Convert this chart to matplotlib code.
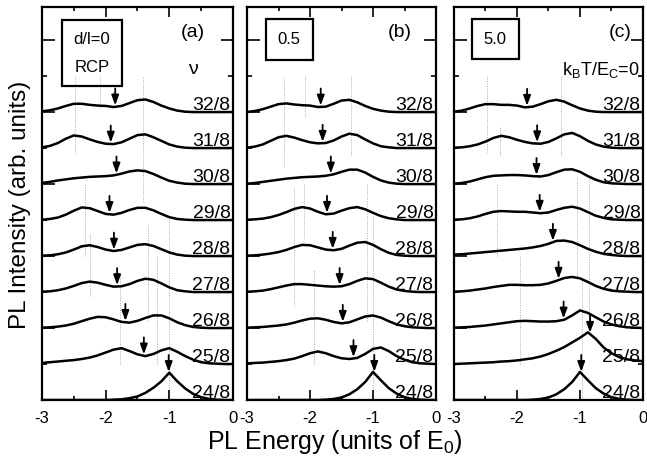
import matplotlib
matplotlib.use('Agg')
import matplotlib.pyplot as plt
import numpy as np
from matplotlib.patches import Rectangle
from matplotlib.ticker import MultipleLocator

plt.rcParams['font.family'] = ['Liberation Sans', 'DejaVu Sans']
plt.rcParams['mathtext.fontset'] = 'custom'
plt.rcParams['mathtext.rm'] = 'Liberation Sans'
plt.rcParams['mathtext.it'] = 'Liberation Sans:italic'
plt.rcParams['axes.unicode_minus'] = False

# ---------------- data ----------------
energy = np.linspace(-3.0, 0.0, 25)          # PL energy grid (units of E0)
nu_labels = ['24/8', '25/8', '26/8', '27/8', '28/8', '29/8', '30/8', '31/8', '32/8']

# panel (a) d/l = 0
a_24 = [0, 0, 0, 0, 0, 0, 0, 0, 0, .01, .02, .05, .10, .20, .34, .52, .76, .52, .32, .17, .08, .03, .01, 0, 0]
a_25 = [.03, .05, .07, .09, .11, .14, .18, .24, .32, .40, .44, .36, .27, .22, .28, .38, .44, .34, .22, .12, .05, .02, .01, 0, 0]
a_26 = [.01, .02, .04, .07, .12, .19, .26, .31, .30, .24, .17, .15, .20, .28, .35, .35, .27, .16, .08, .03, .01, 0, 0, 0, 0]
a_27 = [.01, .02, .05, .10, .17, .25, .29, .26, .20, .15, .16, .22, .31, .37, .34, .24, .13, .05, .02, 0, 0, 0, 0, 0, 0]
a_28 = [.01, .02, .05, .10, .18, .27, .30, .25, .18, .14, .17, .24, .31, .33, .28, .19, .10, .04, .01, 0, 0, 0, 0, 0, 0]
a_29 = [.01, .03, .07, .15, .26, .35, .33, .25, .17, .15, .20, .28, .34, .34, .27, .17, .08, .03, .01, 0, 0, 0, 0, 0, 0]
a_30 = [.03, .06, .10, .13, .16, .18, .20, .21, .22, .24, .29, .35, .38, .36, .28, .18, .09, .04, .01, 0, 0, 0, 0, 0, 0]
a_31 = [.02, .06, .14, .26, .35, .32, .24, .17, .12, .11, .16, .26, .36, .38, .30, .20, .10, .04, .01, 0, 0, 0, 0, 0, 0]
a_32 = [.02, .05, .10, .17, .23, .23, .20, .18, .17, .14, .17, .25, .33, .35, .28, .18, .10, .04, .01, 0, 0, 0, 0, 0, 0]
arrows_a = [-1.01, -1.40, -1.69, -1.82, -1.87, -1.94, -1.83, -1.92, -1.85]

# panel (b) d/l = 0.5
b_24 = [0, 0, 0, 0, 0, 0, 0, 0, 0, 0, .01, .03, .07, .16, .30, .50, .78, .55, .33, .18, .08, .03, .01, 0, 0]
b_25 = [.02, .03, .04, .06, .08, .11, .15, .22, .30, .35, .30, .22, .16, .14, .17, .28, .42, .46, .36, .22, .12, .05, .02, .01, 0]
b_26 = [.01, .02, .03, .05, .07, .10, .15, .21, .26, .27, .23, .17, .13, .16, .24, .32, .35, .29, .19, .10, .05, .02, .01, 0, 0]
b_27 = [.01, .02, .04, .08, .13, .18, .22, .22, .20, .18, .16, .15, .16, .22, .31, .38, .36, .26, .15, .07, .03, .01, 0, 0, 0]
b_28 = [.01, .02, .04, .07, .11, .17, .25, .31, .30, .24, .18, .16, .20, .29, .37, .39, .31, .19, .09, .03, .01, 0, 0, 0, 0]
b_29 = [.01, .02, .04, .08, .14, .22, .31, .36, .32, .23, .16, .18, .26, .33, .36, .30, .20, .11, .05, .02, 0, 0, 0, 0, 0]
b_30 = [.01, .03, .06, .09, .12, .15, .17, .19, .20, .21, .23, .27, .34, .40, .40, .32, .20, .10, .04, .01, 0, 0, 0, 0, 0]
b_31 = [.01, .04, .10, .20, .30, .34, .29, .22, .16, .13, .14, .21, .32, .40, .36, .24, .13, .05, .02, 0, 0, 0, 0, 0, 0]
b_32 = [0, .03, .08, .15, .22, .24, .21, .19, .18, .14, .15, .23, .32, .34, .27, .17, .09, .04, .01, 0, 0, 0, 0, 0, 0]
arrows_b = [-0.98, -1.31, -1.48, -1.53, -1.64, -1.73, -1.67, -1.80, -1.83]

# panel (c) d/l = 5.0
c_24 = [0, 0, 0, 0, 0, 0, 0, 0, 0, 0, .01, .03, .07, .16, .30, .50, .78, .55, .33, .18, .08, .03, .01, 0, 0]
c_25 = [0, .01, .02, .03, .04, .05, .07, .08, .10, .13, .16, .21, .28, .37, .47, .60, .73, .88, .70, .46, .30, .19, .13, .10, .08]
c_26 = [.01, .02, .03, .05, .07, .10, .13, .16, .19, .20, .19, .18, .18, .19, .23, .35, .49, .42, .30, .18, .10, .05, .02, .01, 0]
c_27 = [.01, .02, .04, .07, .10, .14, .17, .20, .20, .19, .19, .20, .24, .31, .39, .42, .38, .28, .17, .09, .04, .02, .01, 0, 0]
c_28 = [.04, .05, .07, .09, .11, .13, .15, .17, .19, .21, .24, .28, .34, .42, .43, .39, .30, .20, .12, .06, .03, .01, 0, 0, 0]
c_29 = [.01, .02, .05, .10, .17, .23, .25, .24, .23, .23, .21, .19, .21, .28, .34, .37, .32, .22, .12, .06, .02, .01, 0, 0, 0]
c_30 = [.01, .03, .07, .13, .19, .23, .24, .25, .25, .24, .22, .21, .25, .33, .40, .41, .34, .22, .12, .05, .02, .01, 0, 0, 0]
c_31 = [.01, .02, .05, .10, .18, .28, .34, .30, .23, .17, .13, .12, .17, .27, .38, .42, .33, .20, .10, .04, .01, 0, 0, 0, 0]
c_32 = [.01, .04, .10, .17, .22, .22, .20, .20, .18, .13, .15, .22, .30, .34, .29, .19, .10, .04, .01, 0, 0, 0, 0, 0, 0]
arrows_c = [-0.98, -0.84, -1.26, -1.34, -1.43, -1.64, -1.69, -1.68, -1.84]

# faint dotted stick lines (energy, from, to)
sticks_a = [(-2.48, 6.9, 9.0), (-2.09, 8.1, 9.0), (-1.41, 5.5, 9.0), (-2.32, 4.0, 6.0), (-2.25, 2.9, 4.6),
            (-1.77, 1.0, 3.5), (-1.33, 2.2, 4.9), (-1.20, 1.0, 4.0), (-1.00, 0.0, 5.1)]
sticks_b = [(-2.42, 6.5, 9.0), (-2.08, 7.9, 9.0), (-1.35, 6.8, 9.0), (-2.26, 2.6, 5.9), (-2.10, 4.5, 6.0),
            (-1.94, 1.0, 3.6), (-1.10, 2.2, 6.0), (-1.00, 0.0, 5.1)]
sticks_c = [(-2.48, 6.9, 9.0), (-2.27, 6.8, 7.6), (-1.95, 1.0, 4.0), (-2.32, 4.0, 6.0), (-1.30, 6.8, 9.0),
            (-1.05, 3.4, 6.2), (-0.97, 0.0, 3.4), (-0.86, 2.0, 6.2)]

panels = [
    dict(curves=[a_24, a_25, a_26, a_27, a_28, a_29, a_30, a_31, a_32], arrows=arrows_a, sticks=sticks_a,
         pos=[0.0649, 0.136, 0.2952, 0.849], tag='(a)', tagx=0.79,
         box=(0.105, 0.80, 0.314, 0.167), boxtext=[('d/l=0', 0.262, 0.916), ('RCP', 0.262, 0.847)]),
    dict(curves=[b_24, b_25, b_26, b_27, b_28, b_29, b_30, b_31, b_32], arrows=arrows_b, sticks=sticks_b,
         pos=[0.3818, 0.136, 0.2921, 0.849], tag='(b)', tagx=0.81,
         box=(0.10, 0.865, 0.249, 0.104), boxtext=[('0.5', 0.224, 0.916)]),
    dict(curves=[c_24, c_25, c_26, c_27, c_28, c_29, c_30, c_31, c_32], arrows=arrows_c, sticks=sticks_c,
         pos=[0.7017, 0.136, 0.2921, 0.849], tag='(c)', tagx=0.878,
         box=(0.095, 0.868, 0.249, 0.101), boxtext=[('5.0', 0.219, 0.916)]),
]

fig = plt.figure(figsize=(6.47, 4.63), dpi=100)

for i, p in enumerate(panels):
    ax = fig.add_axes(p['pos'])
    ax.set_xlim(-3, 0)
    ax.set_ylim(0, 10.92)
    for x, y0, y1 in p['sticks']:
        ax.vlines(x, y0, y1, colors='#a8a8a8', linestyles=(0, (1, 1.5)), lw=0.7, zorder=1)
    for n, curve in enumerate(p['curves']):
        yy = np.array(curve) + n
        ax.plot(energy, yy, color='black', lw=1.8, zorder=3, solid_joinstyle='round')
        xa = p['arrows'][n]
        tip = np.interp(xa, energy, yy) + 0.04
        ax.annotate('', xy=(xa, tip), xytext=(xa, tip + 0.47),
                    arrowprops=dict(arrowstyle='-|>,head_length=0.6,head_width=0.22',
                                    color='black', lw=1.3, shrinkA=0, shrinkB=0,
                                    mutation_scale=10), zorder=4)
        ax.text(-0.04, n + 0.05, nu_labels[n], ha='right', va='baseline', fontsize=14, zorder=5)

    ax.xaxis.set_major_locator(MultipleLocator(1))
    ax.xaxis.set_minor_locator(MultipleLocator(0.5))
    ax.yaxis.set_major_locator(MultipleLocator(2))
    ax.yaxis.set_minor_locator(MultipleLocator(1))
    ax.tick_params(which='both', direction='in', top=True, right=True, labelleft=False, width=1.2)
    ax.tick_params(axis='x', which='major', length=7, labelsize=12, pad=8)
    ax.tick_params(axis='x', which='minor', length=3)
    ax.tick_params(axis='y', which='major', length=9)
    ax.tick_params(axis='y', which='minor', length=3.5)
    ax.set_xticks([-3, -2, -1, 0])
    ax.set_xticklabels(['-3', '-2', '-1', '0'])
    for s in ax.spines.values():
        s.set_linewidth(1.6)

    bx, by, bw, bh = p['box']
    ax.add_patch(Rectangle((bx, by), bw, bh, transform=ax.transAxes, fill=False,
                           lw=1.6, ec='black', zorder=6))
    for t, tx, ty in p['boxtext']:
        ax.text(tx, ty, t, transform=ax.transAxes, ha='center', va='center', fontsize=12)
    ax.text(p['tagx'], 0.934, p['tag'], transform=ax.transAxes, ha='center', va='center', fontsize=14)
    if i == 0:
        ax.text(0.79, 0.84, 'ν', transform=ax.transAxes, ha='center', va='center', fontsize=14)
    if i == 2:
        ax.text(0.985, 0.84, r'k$_\mathrm{B}$T/E$_\mathrm{C}$=0', transform=ax.transAxes,
                ha='right', va='center', fontsize=13)

fig.text(335 / 647, 1 - 442 / 463, r'PL Energy (units of E$_\mathrm{0}$)', ha='center', va='center', fontsize=18)
fig.text(20 / 647, 1 - 205 / 463, 'PL Intensity (arb. units)', ha='center', va='center',
         rotation=90, fontsize=17.5)

fig.savefig('out.png', dpi=100)
